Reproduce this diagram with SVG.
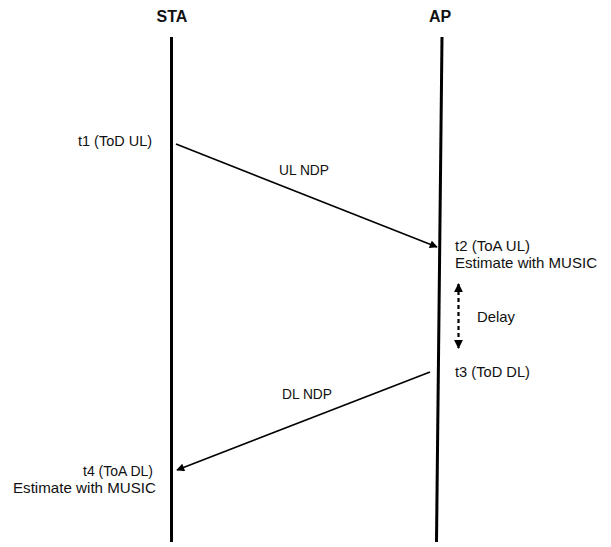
<svg xmlns="http://www.w3.org/2000/svg" width="611" height="547" viewBox="0 0 611 547">
<style>
text{font-family:"Liberation Sans",Arial,sans-serif;font-size:15px;fill:#111}
.hd{font-weight:bold;font-size:16px;text-anchor:middle}
.life{stroke:#000;stroke-width:3;fill:none}
.msg{stroke:#000;stroke-width:1.6;fill:none}
.dash{stroke:#000;stroke-width:2.2;stroke-dasharray:4 3;fill:none}
</style>
<defs>
<marker id="ah" viewBox="0 0 10 10" refX="9" refY="5" markerWidth="6" markerHeight="5" markerUnits="strokeWidth" orient="auto">
<path d="M0,0 L10,5 L0,10 Z" fill="#000"/>
</marker>
<marker id="ah2" viewBox="0 0 10 10" refX="9" refY="5" markerWidth="4" markerHeight="4" markerUnits="strokeWidth" orient="auto-start-reverse">
<path d="M0,0 L10,5 L0,10 Z" fill="#000"/>
</marker>
</defs>
<rect width="611" height="547" fill="#fff"/>
<g id="sta">
<text class="hd" x="172" y="22">STA</text>
<line class="life" x1="171.5" y1="37" x2="171.5" y2="542"/>
</g>
<g id="ap">
<text class="hd" x="440" y="22">AP</text>
<line class="life" x1="442" y1="37" x2="436.5" y2="542"/>
</g>
<g id="connectors">
<line class="msg" x1="176" y1="144" x2="437" y2="247" marker-end="url(#ah)"/>
<line class="msg" x1="430" y1="372" x2="177" y2="470" marker-end="url(#ah)"/>
<line class="dash" x1="458.5" y1="284" x2="458.5" y2="348" marker-start="url(#ah2)" marker-end="url(#ah2)"/>
</g>
<g id="labels">
<text x="78" y="146" textLength="74" lengthAdjust="spacingAndGlyphs">t1 (ToD UL)</text>
<text x="279" y="175" textLength="50" lengthAdjust="spacingAndGlyphs">UL NDP</text>
<text x="455" y="251" textLength="75" lengthAdjust="spacingAndGlyphs">t2 (ToA UL)</text>
<text x="455" y="268" textLength="142" lengthAdjust="spacingAndGlyphs">Estimate with MUSIC</text>
<text x="477" y="322" textLength="38" lengthAdjust="spacingAndGlyphs">Delay</text>
<text x="455" y="377" textLength="75" lengthAdjust="spacingAndGlyphs">t3 (ToD DL)</text>
<text x="282" y="399" textLength="50" lengthAdjust="spacingAndGlyphs">DL NDP</text>
<text x="83" y="476" textLength="70" lengthAdjust="spacingAndGlyphs">t4 (ToA DL)</text>
<text x="13" y="493" textLength="143" lengthAdjust="spacingAndGlyphs">Estimate with MUSIC</text>
</g>
</svg>
